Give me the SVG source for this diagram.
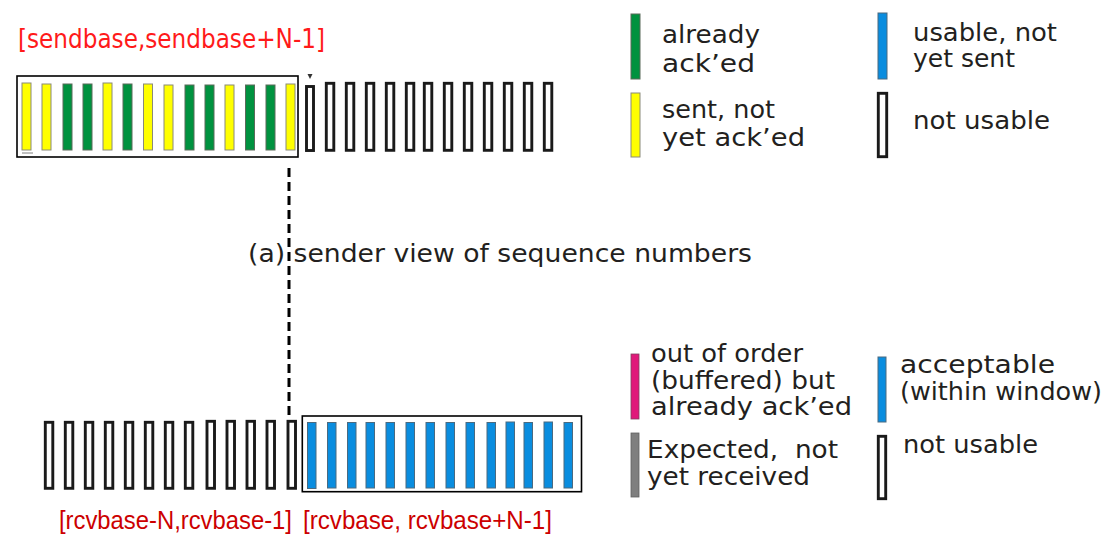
<svg xmlns="http://www.w3.org/2000/svg" width="1115" height="544" viewBox="0 0 1115 544">
<style>
.bg{fill:#ffffff}
.win{fill:none;stroke:#000;stroke-width:1.6}
.y{fill:#ffff00;stroke:#8a8a7a;stroke-width:1}
.g{fill:#00923f;stroke:#5a6a5a;stroke-width:1}
.b{fill:#0a8ddf;stroke:#4a6a80;stroke-width:1}
.m{fill:#e0197a;stroke:#804060;stroke-width:0.8}
.gr{fill:#7f7f7f;stroke:#606060;stroke-width:0.8}
.o{fill:#ffffff;stroke:#1a1a1a;stroke-width:2.9}
.t{font-family:"DejaVu Sans","Liberation Sans",sans-serif;font-size:24px;fill:#231f20}
.sl{font-family:"DejaVu Sans","Liberation Sans",sans-serif;font-size:26px;fill:#ff1a1a}
.rl{font-family:"Liberation Sans",Arial,sans-serif;font-size:26px;fill:#cc0000}
.dash{stroke:#000;stroke-width:3;stroke-dasharray:9 5;fill:none}
</style>
<rect class="bg" x="0" y="0" width="1115" height="544"/>

<g id="connectors">
  <line class="dash" x1="289" y1="168" x2="289" y2="420"/>
</g>

<g id="sender-label">
  <text class="sl" x="18" y="48" textLength="307" lengthAdjust="spacingAndGlyphs">[sendbase,sendbase+N-1]</text>
</g>

<g id="sender-window">
  <rect class="win" x="17" y="76" width="281" height="81"/>
  <rect class="y" x="22" y="83" width="9" height="67"/>
  <rect class="y" x="42" y="84" width="9" height="66"/>
  <rect class="g" x="63" y="84" width="9" height="66"/>
  <rect class="g" x="83" y="84" width="9" height="66"/>
  <rect class="y" x="103" y="83" width="9" height="67"/>
  <rect class="g" x="123" y="84" width="9" height="66"/>
  <rect class="y" x="143.5" y="84" width="9" height="66"/>
  <rect class="y" x="164" y="85" width="9" height="65"/>
  <rect class="g" x="185" y="85" width="9" height="65"/>
  <rect class="g" x="205" y="85" width="9" height="65"/>
  <rect class="y" x="225" y="85" width="9" height="65"/>
  <rect class="g" x="245.5" y="85" width="9" height="65"/>
  <rect class="g" x="266" y="85" width="9" height="65"/>
  <rect class="y" x="286" y="84" width="9" height="66"/>
  <line x1="22" y1="153" x2="33" y2="153" stroke="#808080" stroke-width="1"/>
</g>

<g id="sender-not-usable">
  <polygon points="307.5,74 312.5,74 310,79" fill="#333"/>
  <rect class="o" x="306.5" y="86.5" width="7" height="64"/>
  <rect class="o" x="326.3" y="83.3" width="7.5" height="67"/>
  <rect class="o" x="346.3" y="83.3" width="7.5" height="67"/>
  <rect class="o" x="366.3" y="83.3" width="7.5" height="67"/>
  <rect class="o" x="386.3" y="83.3" width="7.5" height="67"/>
  <rect class="o" x="406.3" y="83.3" width="7.5" height="67"/>
  <rect class="o" x="424.3" y="83.3" width="7.5" height="67"/>
  <rect class="o" x="444.3" y="83.3" width="7.5" height="67"/>
  <rect class="o" x="464.3" y="83.3" width="7.5" height="67"/>
  <rect class="o" x="484.3" y="83.3" width="7.5" height="67"/>
  <rect class="o" x="504.3" y="83.3" width="7.5" height="67"/>
  <rect class="o" x="524.3" y="83.3" width="7.5" height="67"/>
  <rect class="o" x="544.3" y="83.3" width="7.5" height="67"/>
</g>

<g id="legend-sender">
  <g id="leg-acked">
    <rect class="g" x="631" y="14" width="9" height="65"/>
    <text class="t" x="662" y="43" textLength="98" lengthAdjust="spacingAndGlyphs">already</text>
    <text class="t" x="662" y="72" textLength="93" lengthAdjust="spacingAndGlyphs">ack’ed</text>
  </g>
  <g id="leg-sent">
    <rect class="y" x="631" y="93" width="9" height="64"/>
    <text class="t" x="662" y="118" textLength="113" lengthAdjust="spacingAndGlyphs">sent, not</text>
    <text class="t" x="662" y="146" textLength="143" lengthAdjust="spacingAndGlyphs">yet ack’ed</text>
  </g>
  <g id="leg-usable">
    <rect class="b" x="878" y="13" width="9" height="66"/>
    <text class="t" x="913" y="41" textLength="144" lengthAdjust="spacingAndGlyphs">usable, not</text>
    <text class="t" x="913" y="67" textLength="102" lengthAdjust="spacingAndGlyphs">yet sent</text>
  </g>
  <g id="leg-notusable-s">
    <rect class="o" x="878.3" y="93.3" width="8.4" height="63.4"/>
    <text class="t" x="913" y="129" textLength="137" lengthAdjust="spacingAndGlyphs">not usable</text>
  </g>
</g>

<g id="caption">
  <text class="t" x="248" y="262" textLength="504" lengthAdjust="spacingAndGlyphs">(a) sender view of sequence numbers</text>
</g>

<g id="receiver-not-usable">
  <rect class="o" x="45.3" y="422.3" width="7.5" height="66"/>
  <rect class="o" x="65.3" y="422.3" width="7.5" height="66"/>
  <rect class="o" x="85.3" y="422.3" width="7.5" height="66"/>
  <rect class="o" x="105.3" y="422.3" width="7.5" height="66"/>
  <rect class="o" x="125.3" y="422.3" width="7.5" height="66"/>
  <rect class="o" x="145.3" y="422.3" width="7.5" height="66"/>
  <rect class="o" x="165.3" y="422.3" width="7.5" height="66"/>
  <rect class="o" x="185.3" y="422.3" width="7.5" height="66"/>
  <rect class="o" x="207" y="421.3" width="7.5" height="67"/>
  <rect class="o" x="227" y="421.3" width="7.5" height="67"/>
  <rect class="o" x="247" y="421.3" width="7.5" height="67"/>
  <rect class="o" x="267" y="421.3" width="7.5" height="67"/>
  <rect class="o" x="288" y="421.3" width="7.5" height="67"/>
</g>

<g id="receiver-window">
  <rect class="win" x="302.3" y="416" width="279.2" height="75.7"/>
  <rect class="b" x="307.5" y="422.5" width="8.5" height="66"/>
  <rect class="b" x="327.5" y="422.5" width="8.5" height="65.5"/>
  <rect class="b" x="347.5" y="422.5" width="8.5" height="65.5"/>
  <rect class="b" x="366" y="422.5" width="8.5" height="65.5"/>
  <rect class="b" x="386" y="422.5" width="8.5" height="65.5"/>
  <rect class="b" x="406" y="422.5" width="8.5" height="65.5"/>
  <rect class="b" x="426" y="422.5" width="8.5" height="65.5"/>
  <rect class="b" x="446" y="422.5" width="8.5" height="65.5"/>
  <rect class="b" x="466" y="422.5" width="8.5" height="65.5"/>
  <rect class="b" x="487" y="422.5" width="8.5" height="65.5"/>
  <rect class="b" x="506" y="422" width="8.5" height="66"/>
  <rect class="b" x="524" y="422.5" width="8.5" height="65.5"/>
  <rect class="b" x="544" y="422" width="8.5" height="66"/>
  <rect class="b" x="564" y="422.5" width="8.5" height="65.5"/>
</g>

<g id="receiver-labels">
  <text class="rl" x="59" y="529" textLength="233" lengthAdjust="spacingAndGlyphs">[rcvbase-N,rcvbase-1]</text>
  <text class="rl" x="303" y="529" textLength="249" lengthAdjust="spacingAndGlyphs">[rcvbase, rcvbase+N-1]</text>
</g>

<g id="legend-receiver">
  <g id="leg-ooo">
    <rect class="m" x="631" y="354" width="8" height="65"/>
    <text class="t" x="651" y="362" textLength="152" lengthAdjust="spacingAndGlyphs">out of order</text>
    <text class="t" x="651" y="389" textLength="184" lengthAdjust="spacingAndGlyphs">(buffered) but</text>
    <text class="t" x="651" y="415" textLength="201" lengthAdjust="spacingAndGlyphs">already ack’ed</text>
  </g>
  <g id="leg-expected">
    <rect class="gr" x="631" y="433" width="8" height="64"/>
    <text class="t" x="647" y="458" textLength="191" lengthAdjust="spacingAndGlyphs" xml:space="preserve">Expected,  not</text>
    <text class="t" x="647" y="485" textLength="163" lengthAdjust="spacingAndGlyphs">yet received</text>
  </g>
  <g id="leg-acceptable">
    <rect class="b" x="878" y="357" width="8" height="65"/>
    <text class="t" x="900" y="373" textLength="155" lengthAdjust="spacingAndGlyphs">acceptable</text>
    <text class="t" x="900" y="400" textLength="202" lengthAdjust="spacingAndGlyphs">(within window)</text>
  </g>
  <g id="leg-notusable-r">
    <rect class="o" x="878.3" y="436.3" width="7.4" height="62.4"/>
    <text class="t" x="903" y="453" textLength="135" lengthAdjust="spacingAndGlyphs">not usable</text>
  </g>
</g>
</svg>
